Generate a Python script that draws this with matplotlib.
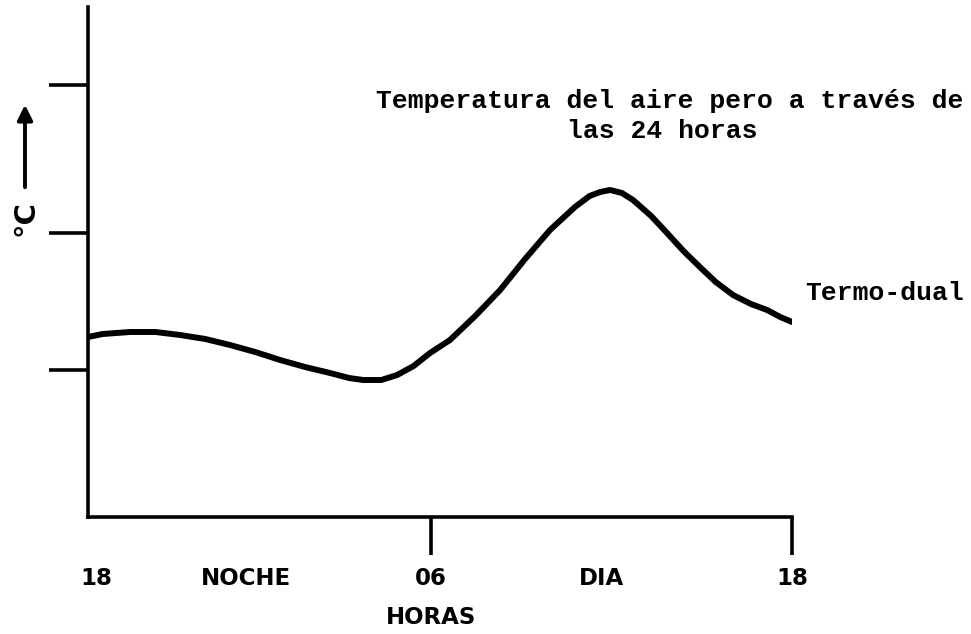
import matplotlib
matplotlib.use('Agg')
import matplotlib.pyplot as plt

# hours after 18h, temperature in arbitrary units
horas = [0.0, 0.5, 1.43, 2.3, 3.14, 4.0, 4.84, 5.7, 6.55, 7.4, 8.25, 8.9, 9.38,
         10.0, 10.54, 11.1, 11.66, 12.34, 13.2, 14.05, 14.9, 15.75, 16.6,
         17.1, 17.46, 17.8, 18.2, 18.58, 19.2, 19.74, 20.3, 20.86, 21.4, 21.99,
         22.6, 23.15, 23.6, 24.0]
temp = [18.0, 18.3, 18.5, 18.5, 18.2, 17.8, 17.2, 16.5, 15.7, 15.0, 14.4, 13.9, 13.7,
        13.7, 14.2, 15.1, 16.4, 17.7, 20.1, 22.7, 25.8, 28.7, 31.0,
        32.1, 32.5, 32.7, 32.4, 31.7, 30.1, 28.4, 26.6, 25.0, 23.5, 22.2,
        21.3, 20.7, 20.0, 19.5]

ytick_pos = [14.7, 28.4, 43.2]
xtick_pos = [11.7, 24.0]
xlabels = ['18', 'NOCHE', '06', 'DIA', '18']
xlabel_pos = [0.3, 5.4, 11.7, 17.5, 24.0]

fig = plt.figure(figsize=(9.71, 6.34), dpi=100)
ax = fig.add_axes([88/971, 1 - 517/634, 704/971, 510/634])

ax.plot(horas, temp, color='black', lw=4.3, solid_capstyle='round', solid_joinstyle='round')

ax.set_xlim(0, 24)
ax.set_ylim(0, 51)
for s in ['top', 'right']:
    ax.spines[s].set_visible(False)
for s in ['left', 'bottom']:
    ax.spines[s].set_linewidth(2.6)
ax.set_yticks(ytick_pos)
ax.set_yticklabels([])
ax.set_xticks(xtick_pos)
ax.set_xticklabels([])
ax.tick_params(axis='y', direction='out', length=28, width=2.6)
ax.tick_params(axis='x', direction='out', length=27, width=2.6)

lab_font = dict(family='DejaVu Sans', fontweight='bold', fontsize=16.5)
for lab, h in zip(xlabels, xlabel_pos):
    ax.text(h, -0.12, lab, transform=ax.get_xaxis_transform(),
            ha='center', va='center', **lab_font)
ax.text(11.7, -0.198, 'HORAS', transform=ax.get_xaxis_transform(),
        ha='center', va='center', **lab_font)

mono = dict(family='Liberation Mono', fontweight='bold', fontsize=19)
fig.text(670/971, 1 - 101/634, 'Temperatura del aire pero a través de', ha='center', va='center', **mono)
fig.text(662/971, 1 - 131/634, 'las 24 horas', ha='center', va='center', **mono)
fig.text(805/971, 1 - 293/634, 'Termo-dual', ha='left', va='center', **mono)

# y axis label with arrow
fig.text(25/971, 1 - 218/634, '°C', rotation=90, ha='center', va='center',
         family='DejaVu Sans', fontweight='bold', fontsize=21)
fig.add_artist(matplotlib.patches.FancyArrowPatch(
    (25/971, 1 - 190/634), (25/971, 1 - 102/634), transform=fig.transFigure,
    arrowstyle='-|>,head_length=9,head_width=4.5', lw=2.8, color='black'))

fig.savefig('out.png', dpi=100)
